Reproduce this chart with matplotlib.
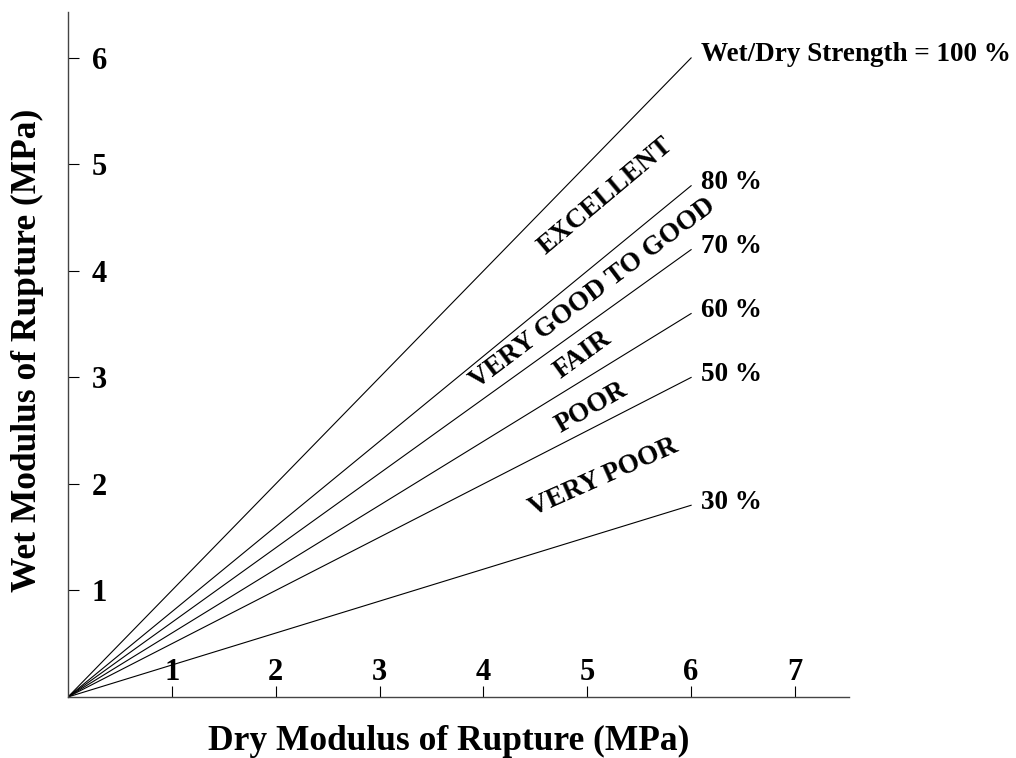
import matplotlib
matplotlib.use('Agg')
import matplotlib.pyplot as plt
import numpy as np

# wet/dry strength ratio lines (percent)
ratios = [100, 80, 70, 60, 50, 30]
ratio_labels = ["Wet/Dry Strength = 100 %", "80 %", "70 %", "60 %", "50 %", "30 %"]
dry_range = [0, 6]

# rating zones between the lines: text, x, y, angle
zone_names = ["EXCELLENT", "VERY GOOD TO GOOD", "FAIR", "POOR", "VERY POOR"]
zone_x = [5.18, 5.05, 4.96, 5.04, 5.16]
zone_y = [4.70, 3.79, 3.21, 2.72, 2.06]
zone_angle = [40, 37, 36, 30, 24]

x_ticks = [1, 2, 3, 4, 5, 6, 7]
y_ticks = [1, 2, 3, 4, 5, 6]

plt.rcParams['font.family'] = ['Liberation Serif', 'DejaVu Serif']
plt.rcParams['font.weight'] = 'bold'

fig = plt.figure(figsize=(10.16, 7.58), dpi=100)
ax = fig.add_axes([0.0669, 0.0805, 0.7687, 0.9035])

dry = np.array(dry_range, dtype=float)
for r, lab in zip(ratios, ratio_labels):
    ax.plot(dry, dry * r / 100, color='black', lw=0.8)
    ax.text(dry[-1] + 0.1, dry[-1] * r / 100 + 0.03, lab, fontsize=19.5,
            fontweight='bold', ha='left', va='center')

for name, x, y, a in zip(zone_names, zone_x, zone_y, zone_angle):
    ax.text(x, y, name, fontsize=19.5, fontweight='bold', rotation=a,
            rotation_mode='anchor', ha='center', va='center')

ax.set_xlim(0, 7.52)
ax.set_ylim(0, 6.43)
ax.set_xticks(x_ticks)
ax.set_yticks(y_ticks)
ax.set_xticklabels([str(t) for t in x_ticks], fontsize=22, fontweight='bold')
ax.set_yticklabels([str(t) for t in y_ticks], fontsize=22, fontweight='bold')
ax.tick_params(axis='x', direction='in', length=8, width=0.8, pad=-7)
ax.tick_params(axis='y', direction='in', length=8, width=0.8, pad=-17)
for lab in ax.get_xticklabels():
    lab.set_va('bottom')
for lab in ax.get_yticklabels():
    lab.set_ha('left')

for s in ['top', 'right']:
    ax.spines[s].set_visible(False)
for s in ['left', 'bottom']:
    ax.spines[s].set_color('#444444')
    ax.spines[s].set_linewidth(1.0)

fig.text(449 / 1016, 1 - 750 / 758, "Dry Modulus of Rupture (MPa)", fontsize=25.5,
         fontweight='bold', ha='center', va='baseline')
fig.text(27 / 1016, 1 - 350 / 758, "Wet Modulus of Rupture (MPa)", fontsize=25.5,
         fontweight='bold', ha='center', va='center', rotation=90)

fig.savefig('out.png', dpi=100)
plt.close(fig)
